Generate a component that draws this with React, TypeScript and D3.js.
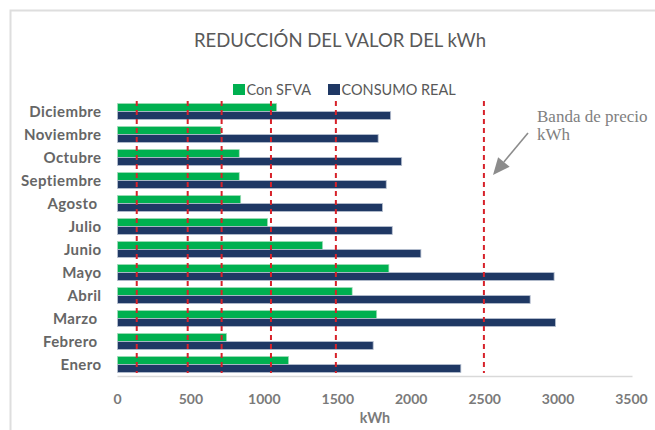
import React from "react";
import * as d3 from "d3";

const months = ["Enero", "Febrero ", "Marzo ", "Abril", "Mayo", "Junio", "Julio", "Agosto ", "Septiembre", "Octubre", "Noviembre", "Diciembre"];
const conSFVA = [1165, 743, 1765, 1598, 1848, 1397, 1022, 839, 829, 829, 705, 1084];
const consumoReal = [2338, 1741, 2983, 2810, 2973, 2066, 1871, 1805, 1830, 1935, 1775, 1860];
const xTicks = [0, 500, 1000, 1500, 2000, 2500, 3000, 3500];
const bandasPrecio = [131, 478, 709, 1045, 1487, 2495];
const seriesNames = ["Con SFVA", "CONSUMO REAL"];

const GREEN = "#00b050";
const NAVY = "#1f3864";
const RED = "#d7222a";
const GRAY = "#666666";
const FONT = "Lato, 'Open Sans', sans-serif";

export default function App() {
  const x = d3.scaleLinear().domain([0, 3500]).range([117.5, 631.5]);
  const y = d3
    .scaleBand<string>()
    .domain([...months].reverse())
    .range([100, 376])
    .paddingInner(0.3)
    .paddingOuter(0.15);
  const bw = y.bandwidth();
  const half = bw / 2;

  // arrow geometry
  const ax0 = 528, ay0 = 133, ax1 = 493, ay1 = 175;
  const len = Math.hypot(ax1 - ax0, ay1 - ay0);
  const ux = (ax1 - ax0) / len, uy = (ay1 - ay0) / len;
  const hl = 17, hw = 7.5;
  const bx = ax1 - hl * ux, by = ay1 - hl * uy;
  const px = -uy, py = ux;
  const head = `M${ax1},${ay1} L${bx + hw * px},${by + hw * py} L${bx - hw * px},${by - hw * py} Z`;

  return (
    <svg
      width={655}
      height={430}
      style={{ position: "absolute", left: 0, top: 0, background: "#fff" }}
    >
      <rect x={0} y={0} width={655} height={430} fill="#fff" />
      <rect x={10.5} y={10.5} width={700} height={500} fill="none" stroke="#dedede" strokeWidth={2} />

      <text x={340} y={47} textAnchor="middle" fontFamily={FONT} fontSize={18.5} fill="#595959">
        REDUCCIÓN DEL VALOR DEL kWh
      </text>

      {/* legend */}
      <g fontFamily={FONT} fontSize={14.5} fill="#595959">
        <rect x={233} y={84} width={12} height={11} fill={GREEN} />
        <text x={246.5} y={95}>{seriesNames[0]}</text>
        <rect x={328} y={84} width={12} height={11} fill={NAVY} />
        <text x={341.5} y={95}>{seriesNames[1]}</text>
      </g>

      {/* bars */}
      {months.map((m, i) => (
        <g key={m}>
          <rect
            x={x(0)}
            y={y(m)!}
            width={x(conSFVA[i]) - x(0)}
            height={half}
            fill={GREEN}
            stroke="#a8dfbd"
            strokeWidth={0.7}
          />
          <rect
            x={x(0)}
            y={y(m)! + half}
            width={x(consumoReal[i]) - x(0)}
            height={half}
            fill={NAVY}
            stroke="#b9c2d2"
            strokeWidth={0.8}
          />
        </g>
      ))}

      {/* axis line */}
      <line x1={x(0)} x2={x(3500) + 1} y1={376.5} y2={376.5} stroke="#d9d9d9" strokeWidth={1.5} />

      {/* price band lines */}
      {bandasPrecio.map((v) => (
        <line
          key={v}
          x1={x(v)}
          x2={x(v)}
          y1={101}
          y2={373}
          stroke={RED}
          strokeWidth={2}
          strokeDasharray="5,4"
        />
      ))}

      {/* category labels */}
      {months.map((m) => (
        <text
          key={m}
          x={101.5}
          y={y(m)! + bw / 2}
          dy="0.36em"
          textAnchor="end"
          fontFamily={FONT}
          fontWeight={700}
          fontSize={15}
          letterSpacing={0.4}
          fill={GRAY}
          style={{ whiteSpace: "pre" }}
        >
          {m}
        </text>
      ))}

      {/* x tick labels */}
      {xTicks.map((t) => (
        <text
          key={t}
          x={x(t)}
          y={403.5}
          textAnchor="middle"
          fontFamily={FONT}
          fontWeight={700}
          fontSize={14}
          fill="#7a7a7a"
        >
          {t}
        </text>
      ))}
      <text x={375} y={422.5} textAnchor="middle" fontFamily={FONT} fontWeight={700} fontSize={14.3} fill="#7a7a7a">
        kWh
      </text>

      {/* annotation */}
      <g fontFamily="'Liberation Serif', 'DejaVu Serif', serif" fontSize={17} fill="#808080">
        <text x={537} y={122}>Banda de precio</text>
        <text x={537} y={140}>kWh</text>
      </g>
      <line x1={ax0} y1={ay0} x2={bx} y2={by} stroke="#8c8c8c" strokeWidth={1.6} />
      <path d={head} fill="#8c8c8c" />
    </svg>
  );
}
